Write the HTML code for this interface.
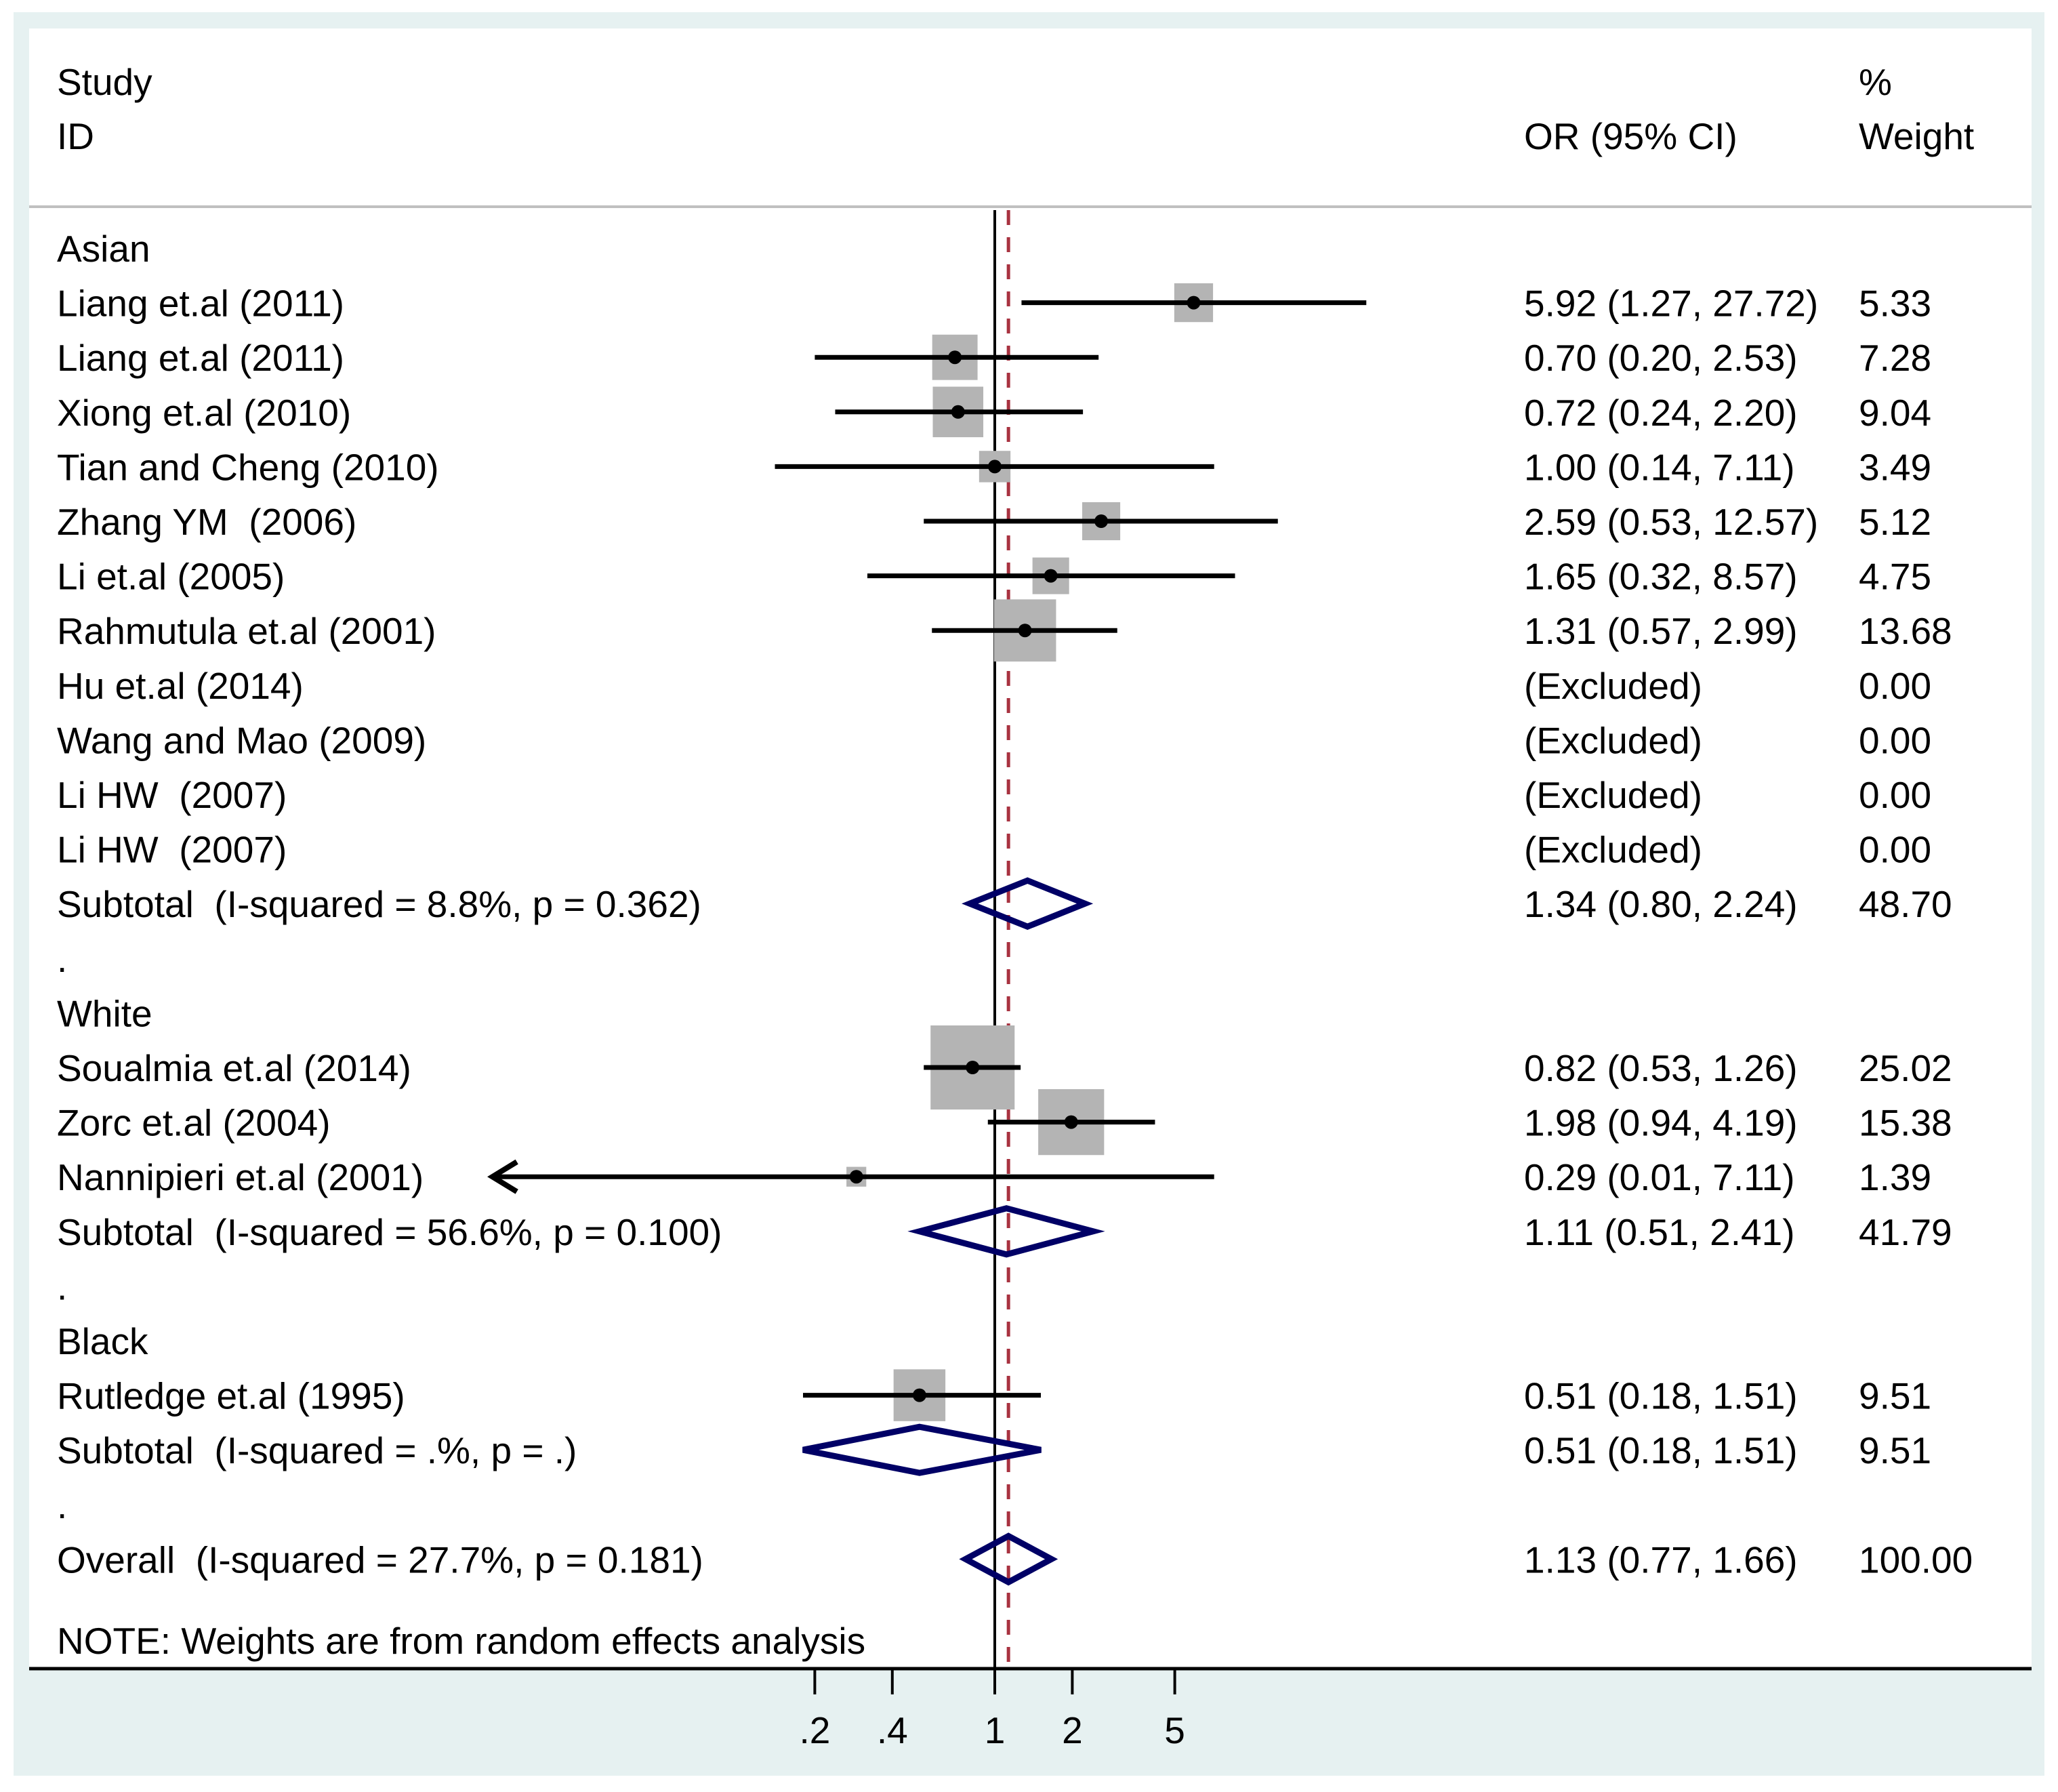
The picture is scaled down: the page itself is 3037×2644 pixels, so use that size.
<!DOCTYPE html>
<html><head><meta charset="utf-8"><style>
html,body{margin:0;padding:0;background:#fff;}
svg{display:block;}
text{font-family:"Liberation Sans",sans-serif;font-size:55px;fill:#000;white-space:pre;}
</style></head><body>
<svg id="chart" width="3037" height="2644" viewBox="0 0 3037 2644" xmlns="http://www.w3.org/2000/svg">
<rect x="20" y="18" width="2997" height="2602" fill="#e6f1f1"/>
<rect x="43" y="42" width="2955" height="2418" fill="#fff"/>
<line x1="43" y1="305" x2="2998" y2="305" stroke="#c0c0c0" stroke-width="4"/>
<text x="84" y="140">Study</text>
<text x="84" y="220">ID</text>
<text x="2249" y="220">OR (95% CI)</text>
<text x="2743" y="140">%</text>
<text x="2743" y="220">Weight</text>
<g id="marks"></g>
</svg>
<script>
const labels = ["Asian","Liang et.al (2011)","Liang et.al (2011)","Xiong et.al (2010)","Tian and Cheng (2010)","Zhang YM  (2006)","Li et.al (2005)","Rahmutula et.al (2001)","Hu et.al (2014)","Wang and Mao (2009)","Li HW  (2007)","Li HW  (2007)","Subtotal  (I-squared = 8.8%, p = 0.362)",".","White","Soualmia et.al (2014)","Zorc et.al (2004)","Nannipieri et.al (2001)","Subtotal  (I-squared = 56.6%, p = 0.100)",".","Black","Rutledge et.al (1995)","Subtotal  (I-squared = .%, p = .)",".","Overall  (I-squared = 27.7%, p = 0.181)"];
const kinds = ["h","s","s","s","s","s","s","s","x","x","x","x","d","b","h","s","s","s","d","b","h","s","d","b","d"];
const orVals = [null,5.92,0.70,0.72,1.00,2.59,1.65,1.31,null,null,null,null,1.34,null,null,0.82,1.98,0.29,1.11,null,null,0.51,0.51,null,1.13];
const lowVals = [null,1.27,0.20,0.24,0.14,0.53,0.32,0.57,null,null,null,null,0.80,null,null,0.53,0.94,0.01,0.51,null,null,0.18,0.18,null,0.77];
const highVals = [null,27.72,2.53,2.20,7.11,12.57,8.57,2.99,null,null,null,null,2.24,null,null,1.26,4.19,7.11,2.41,null,null,1.51,1.51,null,1.66];
const weights = [null,5.33,7.28,9.04,3.49,5.12,4.75,13.68,0.00,0.00,0.00,0.00,48.70,null,null,25.02,15.38,1.39,41.79,null,null,9.51,9.51,null,100.00];
const ciText = ["","5.92 (1.27, 27.72)","0.70 (0.20, 2.53)","0.72 (0.24, 2.20)","1.00 (0.14, 7.11)","2.59 (0.53, 12.57)","1.65 (0.32, 8.57)","1.31 (0.57, 2.99)","(Excluded)","(Excluded)","(Excluded)","(Excluded)","1.34 (0.80, 2.24)","","","0.82 (0.53, 1.26)","1.98 (0.94, 4.19)","0.29 (0.01, 7.11)","1.11 (0.51, 2.41)","","","0.51 (0.18, 1.51)","0.51 (0.18, 1.51)","","1.13 (0.77, 1.66)"];
const weightText = ["","5.33","7.28","9.04","3.49","5.12","4.75","13.68","0.00","0.00","0.00","0.00","48.70","","","25.02","15.38","1.39","41.79","","","9.51","9.51","","100.00"];
const tickVals = [0.2,0.4,1,2,5];
const tickLabels = [".2",".4","1","2","5"];
const axisMin = 0.0112;
const overallOR = 1.13;

const NS="http://www.w3.org/2000/svg";
const g=document.getElementById('marks');
const X=v=>1468+380*Math.log10(v);
const Y=i=>366+i*80.6;
function mk(t,a){const e=document.createElementNS(NS,t);for(const k in a)e.setAttribute(k,a[k]);g.appendChild(e);return e;}
let e=mk('line',{x1:X(1),y1:310,x2:X(1),y2:2460,stroke:'#000','stroke-width':4});


e=mk('line',{x1:X(overallOR),y1:310,x2:X(overallOR),y2:2460,stroke:'#a83240','stroke-width':5,'stroke-dasharray':'22 18'});


labels.forEach((lab,i)=>{
  const y=Y(i);
  let t=mk('text',{x:84,y:y+20});t.textContent=lab;
  
  
  if(ciText[i]){t=mk('text',{x:2249,y:y+20});t.textContent=ciText[i];
    
    }
  if(weightText[i]){t=mk('text',{x:2743,y:y+20});t.textContent=weightText[i];
    
    }
  if(kinds[i]==='s'){
    const s=24.8*Math.sqrt(weights[i]);
    const r=mk('rect',{x:X(orVals[i])-s/2,y:y-s/2,width:s,height:s,fill:'#b4b4b4'});
    
    
    const lo=Math.max(lowVals[i],axisMin);
    const l=mk('line',{x1:X(lo),y1:y,x2:X(highVals[i]),y2:y,stroke:'#000','stroke-width':7});
    
    
    if(lowVals[i]<axisMin){
      const ax=X(lo);
      const a=mk('path',{d:`M${ax+36},${y-22} L${ax},${y} L${ax+36},${y+22}`,fill:'none',stroke:'#000','stroke-width':8});
      
      
    }
    const c=mk('circle',{cx:X(orVals[i]),cy:y,r:10,fill:'#000'});
    
    
  } else if(kinds[i]==='d'){
    const xl=X(lowVals[i]),xm=X(orVals[i]),xh=X(highVals[i]);
    const d=mk('polygon',{points:`${xl},${y} ${xm},${y-34} ${xh},${y} ${xm},${y+34}`,fill:'none',stroke:'#000066','stroke-width':9});
    
    
  }
});
let nt=mk('text',{x:84,y:2440});nt.textContent='NOTE: Weights are from random effects analysis';


e=mk('line',{x1:43,y1:2462,x2:2998,y2:2462,stroke:'#000','stroke-width':5});


tickVals.forEach((v,i)=>{
  const tk=mk('line',{x1:X(v),y1:2462,x2:X(v),y2:2500,stroke:'#000','stroke-width':4});
  
  
  const tl=mk('text',{x:X(v),y:2572,'text-anchor':'middle'});tl.textContent=tickLabels[i];
  
  
});
</script>
</body></html>
